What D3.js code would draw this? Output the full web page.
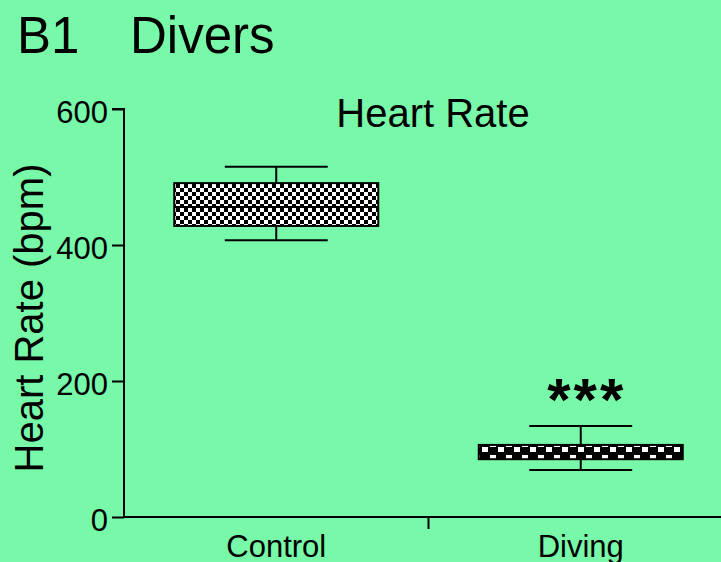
<!DOCTYPE html>
<html>
<head>
<meta charset="utf-8">
<script src="https://d3js.org/d3.v7.min.js"></script>
<style>
    body { margin: 0; background: #77f9a9; }
    svg { display: block; }
    text { font-family: "Liberation Sans", Arial, sans-serif; fill: black; }
</style>
</head>
<body>
<svg></svg>
<script>
    // Data
    const groups = ["Control", "Diving"];
    const minVals = [407, 69];
    const q1Vals = [428, 85];
    const medVals = [456, 94];
    const q3Vals = [491, 106];
    const maxVals = [515, 134];
    const yTicks = [0, 200, 400, 600];
    const sigLabels = ["", "***"];

    const width = 721, height = 562;
    const svg = d3.select("svg").attr("width", width).attr("height", height);

    svg.append("rect").attr("width", width).attr("height", height).attr("fill", "#77f9a9");

    // Fill patterns for the boxes
    const defs = svg.append("defs");
    const fine = defs.append("pattern").attr("id", "checkFine")
        .attr("patternUnits", "userSpaceOnUse").attr("width", 8).attr("height", 8);
    fine.append("rect").attr("width", 8).attr("height", 8).attr("fill", "white");
    fine.append("rect").attr("width", 4).attr("height", 4).attr("fill", "black");
    fine.append("rect").attr("x", 4).attr("y", 4).attr("width", 4).attr("height", 4).attr("fill", "black");

    const coarse = defs.append("pattern").attr("id", "checkCoarse")
        .attr("patternUnits", "userSpaceOnUse").attr("width", 16).attr("height", 12)
        .attr("patternTransform", "translate(482,447)");
    coarse.append("rect").attr("width", 16).attr("height", 12).attr("fill", "black");
    coarse.append("rect").attr("x", 0).attr("y", 0).attr("width", 6).attr("height", 6).attr("fill", "white");
    coarse.append("rect").attr("x", 8).attr("y", 8).attr("width", 6).attr("height", 6).attr("fill", "white");
    const fills = ["url(#checkFine)", "url(#checkCoarse)"];

    // Scales
    const y = d3.scaleLinear().domain([0, 600]).range([517, 109]);
    const x = d3.scaleBand().domain(groups).range([124, 733]);
    const bw = x.bandwidth();
    const boxW = bw * 0.67;
    const capW = bw * 0.338;

    // Y axis
    const yAxis = svg.append("g")
        .attr("transform", "translate(124,0)")
        .call(d3.axisLeft(y).tickValues(yTicks).tickSize(12).tickPadding(4).tickFormat(d3.format("d")));
    yAxis.select(".domain").attr("stroke", "black").attr("stroke-width", 2).attr("d", "M-12," + y(600) + "H0V" + y(0));
    yAxis.selectAll(".tick line").attr("stroke", "black").attr("stroke-width", 2);
    yAxis.selectAll(".tick text")
        .style("font-size", "31px").attr("dy", "0.43em").attr("fill", "black");

    // X axis: line plus a tick between the groups
    svg.append("line")
        .attr("x1", x.range()[0]).attr("x2", x.range()[1])
        .attr("y1", y(0)).attr("y2", y(0))
        .attr("stroke", "black").attr("stroke-width", 2);
    svg.append("line")
        .attr("x1", x(groups[1])).attr("x2", x(groups[1]))
        .attr("y1", y(0)).attr("y2", y(0) + 12)
        .attr("stroke", "black").attr("stroke-width", 2);
    svg.selectAll(".xlab").data(groups).join("text")
        .attr("class", "xlab")
        .attr("x", d => x(d) + bw / 2)
        .attr("y", 557)
        .attr("text-anchor", "middle")
        .style("font-size", "31px")
        .text(d => d);

    // Box plots
    const boxes = svg.selectAll(".box").data(groups).join("g").attr("class", "box");
    boxes.each(function (g, i) {
        const sel = d3.select(this);
        const cx = x(g) + bw / 2;
        // whiskers
        sel.append("line").attr("x1", cx).attr("x2", cx)
            .attr("y1", y(maxVals[i])).attr("y2", y(minVals[i]))
            .attr("stroke", "black").attr("stroke-width", 2);
        [maxVals[i], minVals[i]].forEach(v => {
            sel.append("line").attr("x1", cx - capW / 2).attr("x2", cx + capW / 2)
                .attr("y1", y(v)).attr("y2", y(v))
                .attr("stroke", "black").attr("stroke-width", 2);
        });
        // box
        sel.append("rect")
            .attr("x", cx - boxW / 2).attr("width", boxW)
            .attr("y", y(q3Vals[i])).attr("height", y(q1Vals[i]) - y(q3Vals[i]))
            .attr("fill", fills[i]).attr("stroke", "black").attr("stroke-width", 2);
        // median
        sel.append("line").attr("x1", cx - boxW / 2).attr("x2", cx + boxW / 2)
            .attr("y1", y(medVals[i])).attr("y2", y(medVals[i]))
            .attr("stroke", "black").attr("stroke-width", 2);
        // significance
        if (sigLabels[i]) {
            sel.append("text").attr("x", cx + 6).attr("y", y(maxVals[i]) - 6)
                .attr("text-anchor", "middle")
                .style("font-size", "60px").style("font-weight", "bold")
                .style("letter-spacing", "3px")
                .text(sigLabels[i]);
        }
    });

    // Titles
    svg.append("text").attr("x", 433).attr("y", 127)
        .attr("text-anchor", "middle").style("font-size", "40px").text("Heart Rate");
    svg.append("text").attr("transform", "translate(43,318) rotate(-90)")
        .attr("text-anchor", "middle").style("font-size", "40px").text("Heart Rate (bpm)");
    svg.append("text").attr("x", 17).attr("y", 53).style("font-size", "51px").text("B1");
    svg.append("text").attr("x", 130).attr("y", 53).style("font-size", "51px").text("Divers");
</script>
</body>
</html>
